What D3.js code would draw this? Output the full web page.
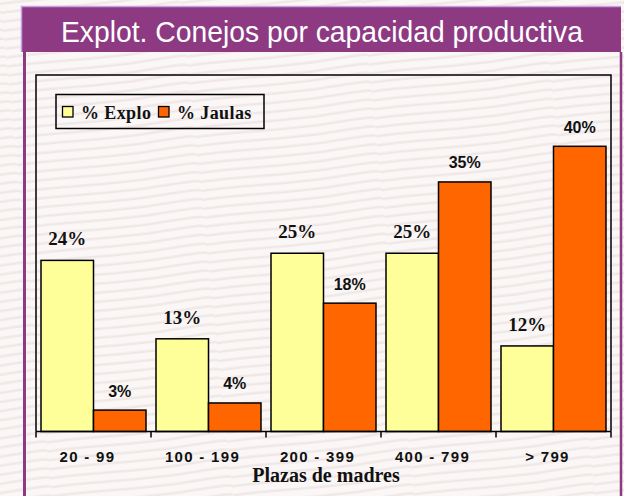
<!DOCTYPE html>
<html>
<head>
<meta charset="utf-8">
<script src="https://cdn.jsdelivr.net/npm/d3@7"></script>
<style>
  body { margin: 0; background: #f7f3f2; }
  svg { display: block; }
</style>
</head>
<body>
<svg id="chart"></svg>
<script>
var WIDTH = 624;
var HEIGHT = 496;

var PLOT_LEFT = 36;
var PLOT_RIGHT = 611;
var PLOT_TOP = 75;
var BASELINE = 431.5;

var PURPLE = "#8d3a83";
var YELLOW = "#ffff99";
var ORANGE = "#ff6600";

var TITLE = "Explot. Conejos por capacidad productiva";
var X_TITLE = "Plazas de madres";

var categories = ["20 - 99", "100 - 199", "200 - 399", "400 - 799", "> 799"];
var series = ["% Explo", "% Jaulas"];
var explo = [24, 13, 25, 25, 12];
var jaulas = [3, 4, 18, 35, 40];
var y_max = 50;

var svg = d3.select("#chart")
    .attr("width", WIDTH)
    .attr("height", HEIGHT);

// faint grain texture for the background
var defs = svg.append("defs");
var grain = defs.append("pattern")
    .attr("id", "grain")
    .attr("patternUnits", "userSpaceOnUse")
    .attr("width", 180)
    .attr("height", 9)
    .attr("patternTransform", "rotate(-6)");
grain.append("rect")
    .attr("width", 180)
    .attr("height", 9)
    .attr("fill", "#faf7f6");
grain.append("path")
    .attr("d", "M0,4 C45,2 90,7 135,4 S180,3 180,4")
    .attr("fill", "none")
    .attr("stroke", "#f0e8e7")
    .attr("stroke-width", 2.5);

svg.append("rect")
    .attr("width", WIDTH)
    .attr("height", HEIGHT)
    .attr("fill", "url(#grain)");

// title bar
svg.append("rect")
    .attr("x", 21)
    .attr("y", 6)
    .attr("width", 600)
    .attr("height", 46)
    .attr("fill", PURPLE);
svg.append("path")
    .attr("d", "M21.5,52 V6.5 H621")
    .attr("fill", "none")
    .attr("stroke", "#c7a2e3")
    .attr("stroke-width", 1.5);

svg.append("text")
    .text(TITLE)
    .attr("x", 322)
    .attr("y", 42)
    .attr("text-anchor", "middle")
    .attr("textLength", 522)
    .attr("lengthAdjust", "spacingAndGlyphs")
    .style("font-family", "'Liberation Sans', Arial, sans-serif")
    .style("font-size", "30px")
    .attr("fill", "#ffffff");

// panel sides
svg.append("line")
    .attr("x1", 24.5).attr("y1", 52)
    .attr("x2", 24.5).attr("y2", HEIGHT)
    .attr("stroke", PURPLE)
    .attr("stroke-width", 3);
svg.append("line")
    .attr("x1", 621).attr("y1", 52)
    .attr("x2", 621).attr("y2", HEIGHT)
    .attr("stroke", PURPLE)
    .attr("stroke-width", 2.5);

// scales
var x = d3.scaleBand()
    .domain(categories)
    .range([PLOT_LEFT, PLOT_RIGHT])
    .paddingInner(0.087)
    .paddingOuter(0.0435);

var xs = d3.scaleBand()
    .domain(series)
    .range([0, x.bandwidth()]);

var y = d3.scaleLinear()
    .domain([0, y_max])
    .range([BASELINE, PLOT_TOP]);

// plot frame
svg.append("path")
    .attr("d", "M" + PLOT_LEFT + "," + BASELINE + " V" + PLOT_TOP + " H" + PLOT_RIGHT + " V" + BASELINE)
    .attr("fill", "none")
    .attr("stroke", "#000")
    .attr("stroke-width", 1.5);

var rows = categories.map(function(c, i) {
    return { cat: c, values: [explo[i], jaulas[i]] };
});

var colors = d3.scaleOrdinal().domain(series).range([YELLOW, ORANGE]);

var groups = svg.selectAll("g.group")
    .data(rows)
    .enter()
    .append("g")
    .attr("class", "group")
    .attr("transform", function(d) { return "translate(" + x(d.cat) + ",0)"; });

groups.selectAll("rect")
    .data(function(d) { return series.map(function(s, j) { return { s: s, v: d.values[j] }; }); })
    .enter()
    .append("rect")
    .attr("x", function(d) { return xs(d.s); })
    .attr("y", function(d) { return y(d.v); })
    .attr("width", xs.bandwidth())
    .attr("height", function(d) { return BASELINE - y(d.v); })
    .attr("fill", function(d) { return colors(d.s); })
    .attr("stroke", "#000")
    .attr("stroke-width", 1.5);

groups.selectAll("text")
    .data(function(d) { return series.map(function(s, j) { return { s: s, v: d.values[j] }; }); })
    .enter()
    .append("text")
    .text(function(d) { return d.v + "%"; })
    .attr("x", function(d) { return xs(d.s) + xs.bandwidth() / 2; })
    .attr("y", function(d) { return y(d.v) - (d.s === series[0] ? 15 : 13.5); })
    .attr("text-anchor", "middle")
    .style("font-family", function(d) {
        return d.s === series[0] ? "'Liberation Serif', 'Times New Roman', serif" : "'Liberation Sans', Arial, sans-serif";
    })
    .style("font-size", function(d) { return d.s === series[0] ? "19px" : "16px"; })
    .style("font-weight", "bold")
    .attr("fill", "#111");

// x axis
var x_axis = d3.axisBottom(x).tickSize(0).tickPadding(0);
var ax = svg.append("g")
    .attr("transform", "translate(0," + BASELINE + ")")
    .call(x_axis);
ax.select(".domain").remove();
ax.selectAll("text")
    .attr("y", 30)
    .attr("dy", 0)
    .attr("dx", -6)
    .style("font-family", "'Liberation Sans', Arial, sans-serif")
    .style("font-size", "15px")
    .style("font-weight", "bold")
    .style("letter-spacing", "1.3px")
    .attr("fill", "#111");

svg.append("line")
    .attr("x1", PLOT_LEFT).attr("y1", BASELINE)
    .attr("x2", PLOT_RIGHT).attr("y2", BASELINE)
    .attr("stroke", "#000")
    .attr("stroke-width", 1.5);

var bounds = categories.map(function(c) { return x(c) - x.step() * x.paddingInner() / 2; });
bounds[0] = PLOT_LEFT;
bounds.push(PLOT_RIGHT);
svg.selectAll("line.tick-mark")
    .data(bounds)
    .enter()
    .append("line")
    .attr("class", "tick-mark")
    .attr("x1", function(d) { return d; })
    .attr("x2", function(d) { return d; })
    .attr("y1", BASELINE)
    .attr("y2", BASELINE + 6)
    .attr("stroke", "#000")
    .attr("stroke-width", 1.5);

svg.append("text")
    .text(X_TITLE)
    .attr("x", 326)
    .attr("y", 482)
    .attr("text-anchor", "middle")
    .style("font-family", "'Liberation Serif', 'Times New Roman', serif")
    .style("font-size", "20px")
    .style("font-weight", "bold")
    .attr("fill", "#111");

// legend
var legend = svg.append("g");
legend.append("rect")
    .attr("x", 56)
    .attr("y", 94.5)
    .attr("width", 208)
    .attr("height", 34)
    .attr("fill", "none")
    .attr("stroke", "#000")
    .attr("stroke-width", 1.5);

var legend_x = [62.5, 158.5];
series.forEach(function(s, i) {
    legend.append("rect")
        .attr("x", legend_x[i])
        .attr("y", 106.5)
        .attr("width", 10.5)
        .attr("height", 10.5)
        .attr("fill", colors(s))
        .attr("stroke", "#000")
        .attr("stroke-width", 1.3);
    legend.append("text")
        .text(s)
        .attr("x", legend_x[i] + 18.5)
        .attr("y", 119)
        .style("font-family", "'Liberation Serif', 'Times New Roman', serif")
        .style("font-size", "18px")
        .style("font-weight", "bold")
        .style("letter-spacing", "0.4px")
        .attr("fill", "#111");
});
</script>
</body>
</html>
